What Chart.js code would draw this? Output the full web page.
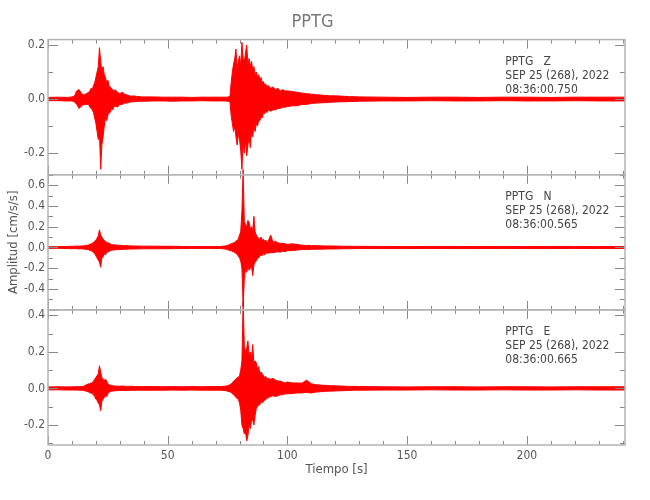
<!DOCTYPE html>
<html>
<head>
<meta charset="utf-8">
<script src="https://cdn.jsdelivr.net/npm/chart.js@4.4.1/dist/chart.umd.min.js"></script>
<style>
  html, body { margin: 0; padding: 0; background: #fff; }
  #wrap { width: 650px; height: 500px; }
</style>
</head>
<body>
<div id="wrap"><canvas id="myChart"></canvas></div>
<script>
// time of each envelope sample [s]
const times = [
    0, 4, 8, 10, 11, 12, 13, 14, 15, 16, 17,
    17.5, 18, 18.5, 19, 19.5, 20, 20.5, 21, 21.5, 22, 22.5, 23, 23.5, 24, 24.5, 25, 25.5, 26, 26.5, 27, 27.5, 28,
    29, 30, 31, 32, 33, 34, 35, 36, 37, 38, 39, 40,
    44, 48, 52, 56, 60, 64, 68, 72, 74, 75, 76,
    76.5, 77, 77.5, 78, 78.5, 79, 79.5, 80, 80.5, 81, 81.5, 82, 82.5, 83, 83.5, 84, 84.5, 85, 85.5, 86, 86.5, 87, 87.5, 88, 88.5, 89, 89.5, 90, 90.5, 91, 91.5, 92,
    93, 94, 95, 96, 97, 98, 99, 100,
    102, 104, 106, 108, 110, 112, 114, 116, 118, 120, 122, 124, 126, 128, 130,
    140, 150, 160, 170, 180, 190, 200, 210, 220, 230, 240, 241
];

// envelope (max / min) of each component, cm/s/s
const zUpper = [
    .006, .007, .006, .008, .01, .03, .035, .02, .015, .02, .025,
    .03, .04, .035, .05, .06, .08, .1, .12, .19, .14, .1, .12, .09, .08, .06, .07, .05, .045, .04, .035, .03, .035,
    .025, .02, .025, .018, .015, .012, .01, .012, .009, .01, .008, .008,
    .008, .007, .007, .007, .006, .007, .007, .007, .007, .007, .01,
    .06, .1, .13, .15, .185, .12, .14, .16, .12, .21, .15, .14, .17, .2, .13, .15, .12, .14, .11, .12, .09, .1, .08, .09, .07, .08, .06, .065, .05, .055, .045, .05,
    .04, .045, .035, .04, .03, .035, .03, .03,
    .028, .025, .022, .02, .018, .016, .015, .013, .012, .012, .011, .01, .009, .009, .008,
    .007, .006, .007, .007, .006, .007, .007, .006, .007, .007, .007, .007
];
const zLower = [
    -.006, -.006, -.007, -.007, -.01, -.02, -.035, -.025, -.02, -.02, -.02,
    -.03, -.035, -.04, -.05, -.07, -.09, -.12, -.15, -.13, -.26, -.17, -.14, -.1, -.07, -.08, -.06, -.05, -.05, -.035, -.04, -.03, -.025,
    -.03, -.02, -.02, -.015, -.015, -.012, -.01, -.01, -.009, -.008, -.008, -.008,
    -.007, -.007, -.008, -.007, -.007, -.006, -.007, -.007, -.007, -.008, -.01,
    -.06, -.09, -.12, -.1, -.14, -.17, -.13, -.15, -.19, -.26, -.16, -.2, -.15, -.21, -.17, -.14, -.18, -.12, -.14, -.1, -.12, -.09, -.1, -.08, -.08, -.065, -.07, -.05, -.055, -.045, -.05, -.04,
    -.045, -.04, -.04, -.035, -.035, -.03, -.03, -.028,
    -.025, -.025, -.02, -.02, -.016, -.015, -.014, -.013, -.012, -.011, -.01, -.01, -.009, -.009, -.008,
    -.007, -.007, -.006, -.007, -.007, -.006, -.007, -.007, -.006, -.007, -.007, -.007
];
const nUpper = [
    .008, .008, .01, .012, .012, .014, .013, .015, .016, .02, .025,
    .03, .035, .04, .05, .06, .07, .09, .11, .17, .12, .1, .08, .07, .06, .05, .045, .04, .035, .03, .028, .025, .025,
    .022, .02, .02, .018, .018, .016, .015, .015, .014, .014, .013, .013,
    .013, .012, .012, .01, .009, .009, .009, .01, .015, .02, .03,
    .035, .04, .045, .05, .06, .07, .08, .12, .15, .35, .75, .25, .22, .2, .26, .24, .18, .2, .16, .3, .15, .12, .1, .09, .08, .1, .07, .08, .06, .07, .05, .06,
    .12, .05, .06, .045, .04, .04, .035, .03,
    .035, .03, .022, .02, .018, .018, .016, .015, .015, .014, .013, .012, .012, .011, .011,
    .01, .009, .01, .01, .009, .01, .009, .01, .01, .009, .01, .01
];
const nLower = [
    -.008, -.008, -.01, -.012, -.01, -.012, -.014, -.013, -.015, -.018, -.022,
    -.03, -.03, -.04, -.045, -.06, -.08, -.1, -.12, -.14, -.19, -.1, -.09, -.06, -.07, -.05, -.04, -.04, -.03, -.03, -.025, -.025, -.022,
    -.02, -.02, -.018, -.018, -.016, -.015, -.015, -.014, -.014, -.013, -.013, -.012,
    -.012, -.012, -.011, -.01, -.009, -.009, -.009, -.01, -.015, -.02, -.03,
    -.03, -.04, -.04, -.05, -.055, -.07, -.08, -.1, -.13, -.2, -.565, -.3, -.2, -.24, -.18, -.22, -.2, -.18, -.27, -.17, -.14, -.13, -.1, -.1, -.08, -.07, -.08, -.06, -.07, -.06, -.05, -.055,
    -.05, -.05, -.045, -.04, -.045, -.035, -.04, -.03,
    -.03, -.025, -.02, -.02, -.018, -.016, -.016, -.015, -.014, -.014, -.013, -.012, -.011, -.011, -.01,
    -.01, -.01, -.009, -.01, -.01, -.009, -.01, -.01, -.009, -.01, -.01, -.01
];
const eUpper = [
    .008, .009, .008, .009, .009, .01, .009, .01, .012, .02, .025,
    .025, .03, .03, .04, .05, .06, .07, .08, .124, .09, .06, .05, .045, .05, .04, .025, .02, .018, .016, .015, .014, .013,
    .012, .012, .013, .012, .011, .011, .012, .01, .011, .01, .01, .01,
    .01, .009, .01, .009, .01, .009, .01, .01, .012, .015, .02,
    .025, .03, .04, .045, .05, .06, .06, .07, .1, .15, .48, .23, .2, .22, .26, .18, .2, .16, .24, .14, .15, .14, .1, .12, .08, .09, .08, .07, .06, .065, .05, .055,
    .05, .055, .045, .04, .04, .035, .03, .035,
    .03, .03, .028, .045, .025, .02, .018, .016, .015, .014, .013, .012, .011, .011, .01,
    .009, .008, .009, .009, .008, .009, .009, .008, .009, .009, .009, .009
];
const eLower = [
    -.008, -.008, -.009, -.009, -.009, -.009, -.01, -.01, -.012, -.015, -.02,
    -.025, -.025, -.03, -.035, -.045, -.06, -.065, -.08, -.09, -.122, -.07, -.06, -.05, -.04, -.045, -.03, -.02, -.018, -.016, -.015, -.014, -.013,
    -.012, -.012, -.011, -.012, -.011, -.011, -.01, -.011, -.01, -.01, -.01, -.01,
    -.01, -.01, -.009, -.01, -.009, -.01, -.01, -.01, -.012, -.015, -.02,
    -.02, -.03, -.035, -.04, -.05, -.055, -.06, -.08, -.12, -.2, -.22, -.25, -.24, -.288, -.26, -.2, -.22, -.18, -.17, -.2, -.15, -.11, -.1, -.09, -.09, -.07, -.08, -.07, -.065, -.06, -.055, -.05,
    -.045, -.04, -.045, -.04, -.035, -.035, -.03, -.03,
    -.028, -.025, -.025, -.022, -.025, -.02, -.018, -.016, -.015, -.014, -.013, -.012, -.011, -.01, -.01,
    -.009, -.009, -.008, -.009, -.009, -.008, -.009, -.009, -.008, -.009, -.009, -.009
];

// axes
const xTicks = [0, 50, 100, 150, 200];
const zTicks = [-0.2, 0.0, 0.2];
const nTicks = [-0.4, -0.2, 0.0, 0.2, 0.4, 0.6];
const eTicks = [-0.2, 0.0, 0.2, 0.4];

// header text of each panel
const panelText = [
    ['PPTG   Z', 'SEP 25 (268), 2022', '08:36:00.750'],
    ['PPTG   N', 'SEP 25 (268), 2022', '08:36:00.565'],
    ['PPTG   E', 'SEP 25 (268), 2022', '08:36:00.665']
];

const fontFamily = "'DejaVu Sans Condensed', 'DejaVu Sans', sans-serif";
const red = '#ff0000';

function pts(ys) {
    return times.map((t, i) => ({ x: t, y: ys[i] }));
}
function trace(ys, axis, fill) {
    return {
        data: pts(ys),
        yAxisID: axis,
        borderColor: red,
        backgroundColor: red,
        borderWidth: 1,
        pointRadius: 0,
        fill: fill,
        clip: false
    };
}

function yScale(ticks, min, max, extra) {
    return Object.assign({
        type: 'linear',
        position: 'left',
        stack: 'seis',
        stackWeight: 1,
        min: min,
        max: max,
        afterBuildTicks: s => { s.ticks = ticks.map(v => ({ value: v })); },
        afterFit: s => { s.width = 48; },
        grid: { display: false, drawTicks: false },
        border: { display: false },
        ticks: {
            color: '#555',
            padding: 3,
            autoSkip: false,
            font: { family: fontFamily, size: 12 },
            callback: v => v.toFixed(1)
        }
    }, extra || {});
}

// frames with inward ticks + station labels
const framePlugin = {
    id: 'frames',
    afterDatasetsDraw(chart) {
        const { ctx, chartArea, scales } = chart;
        const xs = scales.x;
        const left = chartArea.left, right = chartArea.right;
        ctx.save();
        ['y1', 'y2', 'y3'].forEach((id, i) => {
            const s = scales[id];
            ctx.strokeStyle = '#888';
            ctx.lineWidth = 1;
            ctx.beginPath();
            for (let t = 0; t <= xs.max; t += 10) {
                const px = Math.round(xs.getPixelForValue(t)) + 0.5;
                const len = t % 50 === 0 ? 9 : 4;
                ctx.moveTo(px, s.top); ctx.lineTo(px, s.top + len);
                ctx.moveTo(px, s.bottom); ctx.lineTo(px, s.bottom - len);
            }
            for (let k = Math.ceil(s.min * 10); k <= Math.floor(s.max * 10); k++) {
                const py = Math.round(s.getPixelForValue(k / 10)) + 0.5;
                const len = k % 2 === 0 ? 10 : 5;
                ctx.moveTo(left, py); ctx.lineTo(left + len, py);
                ctx.moveTo(right, py); ctx.lineTo(right - len, py);
            }
            ctx.stroke();

            ctx.strokeStyle = '#b4b4b4';
            ctx.lineWidth = 1.5;
            ctx.strokeRect(left, s.top, right - left, s.bottom - s.top);

            ctx.fillStyle = '#444';
            ctx.font = '12px ' + fontFamily;
            ctx.textBaseline = 'middle';
            ctx.textAlign = 'left';
            panelText[i].forEach((line, k) => {
                ctx.fillText(line, xs.getPixelForValue(191), s.top + 22 + k * 14);
            });
        });
        ctx.restore();
    }
};

const config = {
    type: 'line',
    data: {
        datasets: [
            trace(zUpper, 'y1', '+1'),
            trace(zLower, 'y1', false),
            trace(nUpper, 'y2', '+1'),
            trace(nLower, 'y2', false),
            trace(eUpper, 'y3', '+1'),
            trace(eLower, 'y3', false)
        ]
    },
    options: {
        responsive: true,
        maintainAspectRatio: false,
        animation: false,
        layout: { padding: { left: 0, right: 25, top: 0, bottom: 0 } },
        plugins: {
            legend: { display: false },
            tooltip: { enabled: false },
            title: {
                display: true,
                text: 'PPTG',
                color: '#777',
                font: { family: fontFamily, size: 18, weight: 'normal' },
                padding: { top: 12, bottom: 6 }
            }
        },
        scales: {
            x: {
                type: 'linear',
                min: 0,
                max: 241,
                afterBuildTicks: s => { s.ticks = xTicks.map(v => ({ value: v })); },
                afterFit: s => { s.height = 55; },
                grid: { display: false, drawTicks: false },
                border: { display: false },
                ticks: {
                    color: '#555',
                    padding: 4,
                    maxRotation: 0,
                    font: { family: fontFamily, size: 12 },
                    callback: v => String(v)
                },
                title: {
                    display: true,
                    text: 'Tiempo [s]',
                    color: '#555',
                    font: { family: fontFamily, size: 13 },
                    padding: { top: 0, bottom: 23 }
                }
            },
            // stacked left axes are laid out last-defined first, so bottom panel goes first
            y3: yScale(eTicks, -0.31, 0.43),
            y2: yScale(nTicks, -0.6, 0.7, {
                title: {
                    display: true,
                    text: 'Amplitud [cm/s/s]',
                    color: '#555',
                    font: { family: fontFamily, size: 13 },
                    padding: { top: 6, bottom: 0 }
                }
            }),
            y1: yScale(zTicks, -0.28, 0.22)
        }
    },
    plugins: [framePlugin]
};

var ctx = document.getElementById('myChart').getContext('2d');
var myChart = new Chart(ctx, config);
</script>
</body>
</html>
